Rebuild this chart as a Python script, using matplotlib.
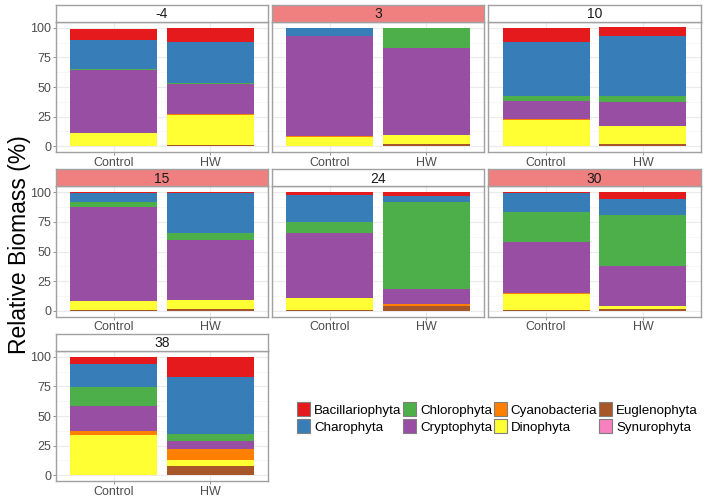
import numpy as np
import matplotlib
matplotlib.use("Agg")
import matplotlib.pyplot as plt
import matplotlib.patches as patches

plt.rcParams['font.family'] = ['Liberation Sans', 'DejaVu Sans']

# phyla in ggplot level order (first level stacked on top)
phyla = ['Bacillariophyta', 'Charophyta', 'Chlorophyta', 'Cryptophyta',
         'Cyanobacteria', 'Dinophyta', 'Euglenophyta', 'Synurophyta']
colors = ['#E41A1C', '#377EB8', '#4DAF4A', '#984EA3',
          '#FF7F00', '#FFFF33', '#A65628', '#F781BF']

temps = ['-4', '3', '10', '15', '24', '30', '38']
heatwave_strip = [False, True, False, True, False, True, False]
treatments = ['Control', 'HW']

# relative biomass (%) per temperature, [Control, HW], order as in phyla
bacillariophyta = [[9.0, 12.2], [0.0, 0.0], [12.0, 7.6], [0.6, 0.6], [2.3, 3.0], [0.6, 5.6], [6.0, 17.0]]
charophyta      = [[25.0, 34.0], [6.8, 0.0], [46.0, 50.4], [7.4, 33.8], [23.1, 5.0], [15.7, 13.6], [19.5, 48.4]]
chlorophyta     = [[0.6, 1.5], [0.0, 17.0], [3.6, 4.7], [4.0, 6.2], [9.2, 74.0], [25.4, 43.1], [16.1, 6.0]]
cryptophyta     = [[53.4, 25.5], [85.0, 74.0], [15.8, 20.6], [79.8, 50.4], [54.4, 12.6], [43.7, 33.7], [21.3, 6.8]]
cyanobacteria   = [[0.3, 0.2], [0.3, 0.0], [0.4, 0.5], [0.2, 0.0], [0.4, 1.2], [0.4, 0.3], [2.8, 9.3]]
dinophyta       = [[10.4, 25.6], [7.6, 7.5], [21.8, 14.9], [7.8, 7.6], [10.2, 0.0], [14.0, 2.6], [33.8, 4.6]]
euglenophyta    = [[0.3, 1.0], [0.3, 1.5], [0.4, 1.7], [0.2, 1.4], [0.4, 4.2], [0.2, 1.1], [0.5, 7.9]]
synurophyta     = [[0.0, 0.0], [0.0, 0.0], [0.0, 0.0], [0.0, 0.0], [0.0, 0.0], [0.0, 0.0], [0.0, 0.0]]

series = [bacillariophyta, charophyta, chlorophyta, cryptophyta,
          cyanobacteria, dinophyta, euglenophyta, synurophyta]

W, H = 709, 498
fig = plt.figure(figsize=(W / 100, H / 100), dpi=100)

col_x = [(56, 268), (272, 484), (488, 701)]
row_top = [5, 169.5, 334]
strip_h = 17
panel_h = 130


def frac(x0, y0, x1, y1):
    # pixel box (top-left origin) -> figure fraction rect
    return [x0 / W, 1 - y1 / H, (x1 - x0) / W, (y1 - y0) / H]


border = '#A0A0A0'
for i, t in enumerate(temps):
    r, c = divmod(i, 3)
    x0, x1 = col_x[c]
    st = row_top[r]
    ax = fig.add_axes(frac(x0, st + strip_h, x1, st + strip_h + panel_h))
    xpos = np.arange(len(treatments)) + 1
    bottom = np.zeros(len(treatments))
    # stack from the last level (bottom) up to the first (top)
    for k in range(len(phyla) - 1, -1, -1):
        vals = np.array([series[k][i][j] for j in range(len(treatments))])
        ax.bar(xpos, vals, width=0.9, bottom=bottom, color=colors[k], linewidth=0)
        bottom += vals
    ax.set_xlim(0.4, 2.6)
    ax.set_ylim(-5, 105)
    ax.set_xticks(xpos)
    ax.set_xticklabels(treatments)
    ax.set_yticks([0, 25, 50, 75, 100])
    ax.set_yticks([12.5, 37.5, 62.5, 87.5], minor=True)
    ax.grid(True, which='major', color='#EBEBEB', linewidth=0.8)
    ax.grid(True, which='minor', color='#F4F4F4', linewidth=0.5)
    ax.set_axisbelow(True)
    ax.tick_params(axis='both', which='major', colors='#7F7F7F', labelcolor='#4D4D4D',
                   labelsize=9, length=2, width=0.6, pad=1.5)
    ax.tick_params(axis='both', which='minor', length=0)
    if c != 0:
        ax.tick_params(axis='y', labelleft=False, length=0)
    for s in ax.spines.values():
        s.set_color(border)
        s.set_linewidth(1.0)
    # strip
    sax = fig.add_axes(frac(x0, st, x1, st + strip_h))
    sax.set_xticks([])
    sax.set_yticks([])
    sax.set_facecolor('#F08080' if heatwave_strip[i] else 'white')
    for s in sax.spines.values():
        s.set_color(border)
        s.set_linewidth(1.0)
    sax.text(0.5, 0.45, t, ha='center', va='center', fontsize=10, color='#1A1A1A',
             transform=sax.transAxes)

fig.text(20 / W, 1 - 245 / H, 'Relative Biomass (%)', rotation=90, ha='center',
         va='center', fontsize=16.5, color='black')

handles = [patches.Patch(facecolor=colors[k], edgecolor='#7F7F7F', linewidth=0.8)
           for k in range(len(phyla))]
fig.legend(handles, phyla, ncol=4, loc='upper left',
           bbox_to_anchor=(292 / W, 1 - 397 / H), frameon=False,
           fontsize=9.6, handlelength=0.95, handleheight=1.2, handletextpad=0.3,
           columnspacing=0.15, labelspacing=0.2, borderaxespad=0)

fig.savefig('out.png', dpi=100)
